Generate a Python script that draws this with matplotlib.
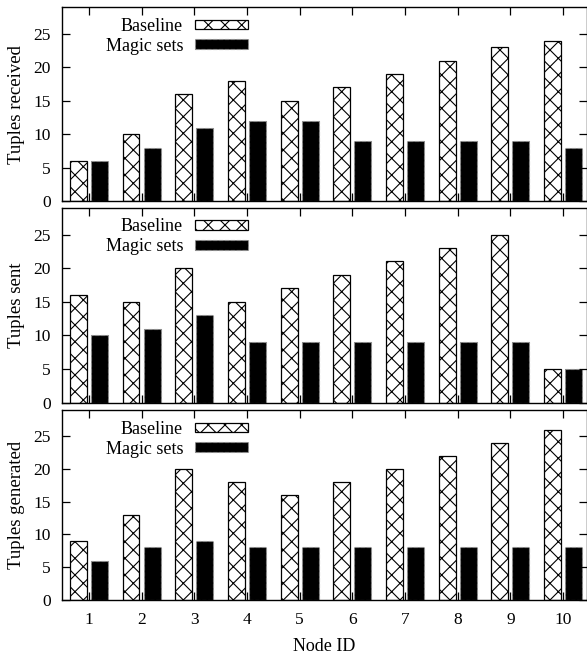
import matplotlib.pyplot as plt
import numpy as np

plt.rcParams['font.family'] = ['Liberation Serif', 'DejaVu Serif']
plt.rcParams['font.size'] = 13
plt.rcParams['hatch.linewidth'] = 0.8

# Данные для графиков
nodes = [1, 2, 3, 4, 5, 6, 7, 8, 9, 10]
received_base = [6, 10, 16, 18, 15, 17, 19, 21, 23, 24]
received_magic = [6, 8, 11, 12, 12, 9, 9, 9, 9, 8]
sent_base = [16, 15, 20, 15, 17, 19, 21, 23, 25, 5]
sent_magic = [10, 11, 13, 9, 9, 9, 9, 9, 9, 5]
generated_base = [9, 13, 20, 18, 16, 18, 20, 22, 24, 26]
generated_magic = [6, 8, 9, 8, 8, 8, 8, 8, 8, 8]

panels = [
    ('Tuples received', received_base, received_magic),
    ('Tuples sent', sent_base, sent_magic),
    ('Tuples generated', generated_base, generated_magic),
]

fig = plt.figure(figsize=(5.87, 6.57), dpi=100)

# Положение панелей (в долях фигуры)
rects = [
    [0.1056, 0.694, 0.894, 0.295],
    [0.1056, 0.387, 0.894, 0.297],
    [0.1056, 0.087, 0.894, 0.289],
]

x = np.array(nodes)
w = 0.32
for i, (label, base, magic) in enumerate(panels):
    ax = fig.add_axes(rects[i])
    ax.bar(x - 0.2, base, w, color='white', edgecolor='black',
           hatch='xx', linewidth=0.9, label='Baseline')
    ax.bar(x + 0.2, magic, w, color='black', edgecolor='0.55',
           linestyle='--', linewidth=0.8, label='Magic sets')
    ax.set_xlim(0.49, 10.45)
    ax.set_ylim(0, 29)
    ax.set_yticks([0, 5, 10, 15, 20, 25])
    ax.set_xticks(nodes)
    ax.tick_params(direction='in', top=True, right=True, length=6,
                   width=0.9, labelsize=12.5)
    ax.tick_params(axis='y', pad=8)
    ax.set_ylabel(label, fontsize=13.5, labelpad=6)
    for s in ax.spines.values():
        s.set_linewidth(1.0)
    if i < 2:
        ax.set_xticklabels([])
    else:
        ax.set_xlabel('Node ID', fontsize=13, labelpad=7)
        ax.tick_params(axis='x', pad=9)
    # Легенда: текст слева, образец справа
    ax.legend(loc='upper right', bbox_to_anchor=(0.375, 1.0), frameon=False,
              markerfirst=False, handlelength=2.93, handleheight=0.45,
              handletextpad=0.66, labelspacing=0.15, borderaxespad=0.2,
              borderpad=0.4, fontsize=13)

fig.savefig('out.png', dpi=100)
